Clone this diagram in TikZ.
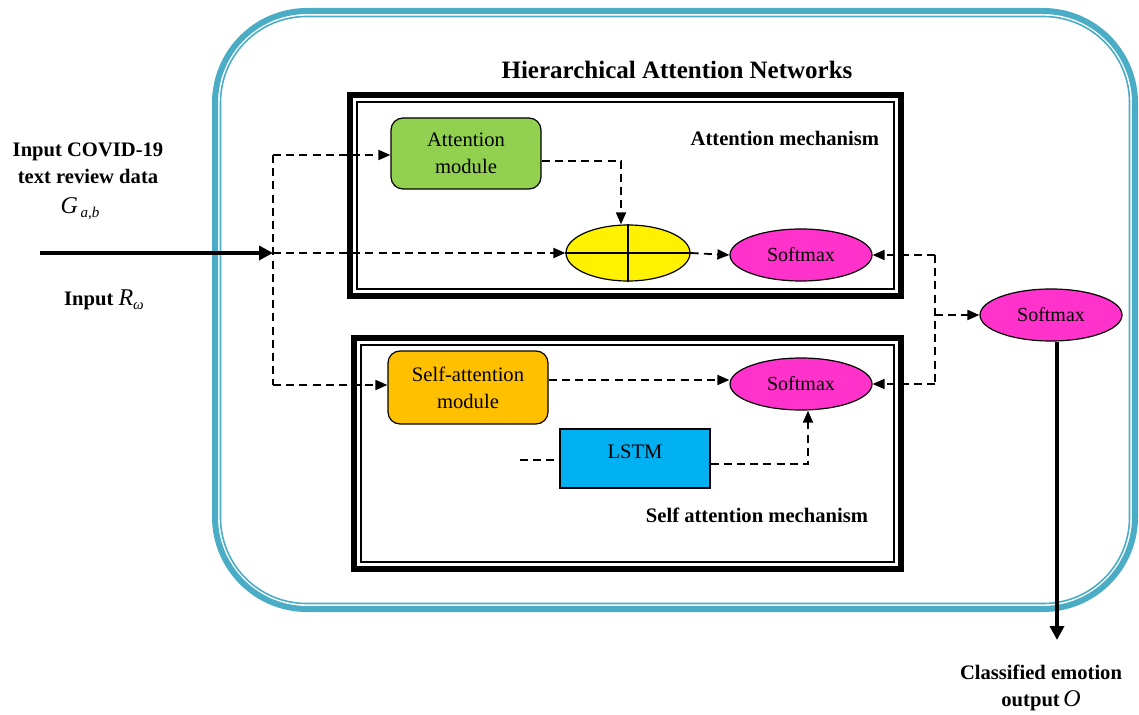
\documentclass[tikz,border=0pt]{standalone}
\usepackage{fontspec}
\setmainfont{Liberation Serif}
\usetikzlibrary{shapes.geometric,arrows.meta,calc}
\definecolor{hanblue}{HTML}{4BACC6}
\definecolor{amgreen}{HTML}{92D050}
\definecolor{saorange}{HTML}{FFC000}
\definecolor{smpink}{HTML}{FF33CC}
\definecolor{lstmblue}{HTML}{00B0F0}
\tikzset{
  dline/.style={line width=0.9pt, dash pattern=on 4pt off 2.6pt},
  darr/.style={dline, -{Triangle[length=6pt,width=5pt]}},
  modbox/.style={draw, line width=0.6pt, rounded corners=6pt, align=center, font=\fontsize{10.3}{13.5}\selectfont, inner sep=0pt},
  smnode/.style={ellipse, draw, line width=0.6pt, fill=smpink, minimum width=71pt, minimum height=26pt, inner sep=0pt, font=\fontsize{10}{12}\selectfont},
  boldlbl/.style={font=\bfseries\fontsize{10.3}{13.5}\selectfont, align=center},
}
\begin{document}
\begin{tikzpicture}[x=0.5pt,y=-0.5pt]
\useasboundingbox (0,0) rectangle (1139,715);
% outer blue rounded container
\draw[hanblue, line width=3pt, rounded corners=46pt] (215,11) rectangle (1135,609);
\draw[hanblue, line width=0.8pt, rounded corners=43pt] (220.5,16.5) rectangle (1129.5,603.5);
\node[font=\bfseries\fontsize{12.5}{15}\selectfont] (title) at (677,70) {Hierarchical Attention Networks};
% mechanism boxes
\draw[line width=2.6pt] (350,95) rectangle (901,296);
\draw[line width=0.7pt] (357,102) rectangle (894,289);
\draw[line width=2.6pt] (354,338) rectangle (901,569);
\draw[line width=0.7pt] (361,345) rectangle (894,562);
\node[boldlbl, anchor=east] (attlbl) at (886,138) {Attention mechanism};
\node[boldlbl, anchor=east] (selflbl) at (875,515) {Self attention mechanism};
% nodes
\node[modbox, fill=amgreen, minimum width=75pt, minimum height=35.5pt] (am) at (466,153.5) {Attention\\module};
\node[ellipse, draw, line width=0.6pt, fill=yellow, minimum width=62pt, minimum height=28pt, inner sep=0pt] (yel) at (628,253) {};
\draw[line width=0.6pt] (yel.north) -- (yel.south) (yel.west) -- (yel.east);
\node[smnode] (sm1) at (801,255) {Softmax};
\node[modbox, fill=saorange, minimum width=80pt, minimum height=36.5pt] (sa) at (468,387.5) {Self-attention\\module};
\node[smnode] (sm2) at (801,384) {Softmax};
\node[draw, line width=0.6pt, fill=lstmblue, minimum width=75pt, minimum height=29.5pt, inner sep=0pt] (lstm) at (635,458.5) {};
\node[font=\fontsize{10.3}{12}\selectfont, anchor=north] (lstmtxt) at ([yshift=-4.5pt]lstm.north) {LSTM};
\node[smnode] (sm3) at (1051,315) {Softmax};
% labels left
\node[boldlbl] (inlbl) at (88,163) {Input COVID-19\\text review data};
\node[font=\fontsize{12}{14}\selectfont] (glbl) at (80,209) {\textit{G}\raisebox{-0.4ex}{\fontsize{7.5}{8}\selectfont\,\textit{a},\textit{b}}};
\node[font=\bfseries\fontsize{10.3}{12}\selectfont] (rlbl) at (104,300) {Input \mdseries\fontsize{12}{14}\selectfont\textit{R}\raisebox{-0.4ex}{\fontsize{7.5}{8}\selectfont\textit{ω}}};
\node[boldlbl] (outlbl) at (1041,688) {Classified emotion\\output\,{\mdseries\fontsize{12}{14}\selectfont\textit{O}}};
% coordinates
\coordinate (start) at (40,253);
\coordinate (split) at (273,253);
\coordinate (top) at (273,155);
\coordinate (bot) at (273,385);
\coordinate (rsplit) at (935,255);
\coordinate (rbot) at (935,384);
\coordinate (lstmin) at (520,460);
\coordinate (endo) at (1057,640);
% connectors
\draw[line width=2.2pt, -{Triangle[length=7pt,width=7pt]}] (start) -- (split);
\draw[dline] (top) -- (bot);
\draw[darr] (top) -- (top -| am.west);
\draw[darr] (split) -- (yel.west);
\draw[darr] (bot) -- (bot -| sa.west);
\draw[darr] (am.east |- 0,161) -- (621,161) -- (621,0 |- yel.north);
\draw[darr] (yel.east) -- (sm1.west);
\draw[darr] (sa.east |- 0,380) -- (sa.east |- 0,380 -| sm2.west);
\draw[dline] (lstmin) -- (lstmin -| lstm.west);
\draw[darr] (lstm.east |- 0,464) -- (808,464) -- (808,0 |- sm2.south);
\draw[dline] (rsplit) -- (rbot);
\draw[darr] (rsplit) -- (sm1.east);
\draw[darr] (rbot) -- (sm2.east);
\draw[darr] (rsplit |- sm3.west) -- (sm3.west);
\draw[line width=2.2pt, -{Triangle[length=7pt,width=7pt]}] (sm3.south -| endo) -- (endo);
\end{tikzpicture}
\end{document}
